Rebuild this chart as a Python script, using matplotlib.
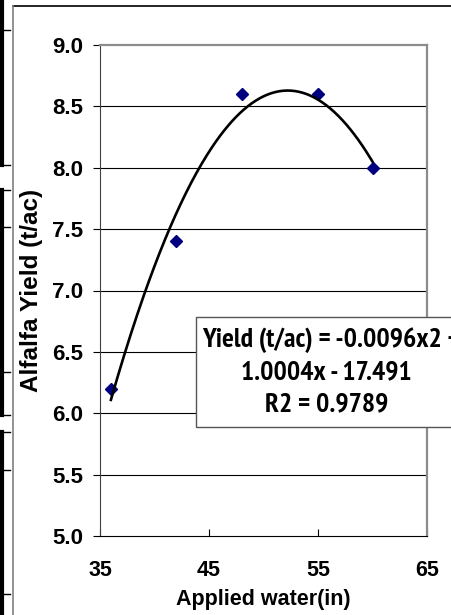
import matplotlib
matplotlib.use('Agg')
import matplotlib.pyplot as plt
from matplotlib import font_manager
from matplotlib.lines import Line2D
from matplotlib.patches import Rectangle
import numpy as np

# data
water_in = [36, 42, 48, 55, 60]
yield_tac = [6.2, 7.4, 8.6, 8.6, 8.0]
x_ticks = [35, 45, 55, 65]
y_ticks = [5.0, 5.5, 6.0, 6.5, 7.0, 7.5, 8.0, 8.5, 9.0]
eq_lines = ['Yield (t/ac) = -0.0096x2 +', '1.0004x - 17.491', 'R2 = 0.9789']

plt.rcParams['font.family'] = ['Liberation Sans', 'DejaVu Sans']
plt.rcParams['font.weight'] = 'bold'

# bold narrow face for the trendline label, if one is installed
narrow_bold = [f for f in font_manager.fontManager.ttflist
               if 'Narrow' in f.name and f.weight in (700, 'bold') and f.style == 'normal']
if narrow_bold:
    eq_prop = font_manager.FontProperties(fname=narrow_bold[0].fname, size=20)
else:
    eq_prop = font_manager.FontProperties(family='Liberation Sans', weight='bold', size=15.8)

W, H = 451, 615
fig = plt.figure(figsize=(W / 100, H / 100), dpi=100)
ax = fig.add_axes([100 / W, 1 - 536 / H, 327 / W, 491 / H])

# outer chart frame and the sheet lines on the left edge
fig.add_artist(Line2D([13 / W, 1], [1 - 6 / H, 1 - 6 / H], color='black', lw=1.2))
fig.add_artist(Line2D([13 / W, 13 / W], [0, 1 - 6 / H], color='#808080', lw=1.2))
for y0, y1 in [(0, 165), (190, 415), (432, 615)]:
    fig.add_artist(Line2D([2 / W, 2 / W], [1 - y0 / H, 1 - y1 / H], color='black', lw=3))
for yy in [30, 165, 190, 227, 372, 415, 432, 470, 594]:
    fig.add_artist(Line2D([0, 10 / W], [1 - yy / H, 1 - yy / H], color='black', lw=1))

coef = np.polyfit(water_in, yield_tac, 2)
xs = np.linspace(min(water_in), max(water_in), 200)
ax.plot(xs, np.polyval(coef, xs), color='black', lw=1.9, zorder=4)
ax.plot(water_in, yield_tac, linestyle='none', marker='D', markersize=6.3,
        color='#000080', zorder=3)

ax.set_xlim(35, 65)
ax.set_ylim(5.0, 9.0)
ax.set_xticks(x_ticks)
ax.set_yticks(y_ticks)
ax.set_yticklabels([f'{v:.1f}' for v in y_ticks])
for v in y_ticks[1:-1]:
    ax.axhline(v, color='black', lw=0.8, zorder=1)

ax.tick_params(axis='y', direction='out', length=5, width=0.8, pad=7, labelsize=16)
ax.tick_params(axis='x', direction='in', length=5, width=0.8, pad=17, labelsize=15.5)
ax.spines['left'].set_color('#404040')
ax.spines['bottom'].set_color('black')
ax.spines['top'].set_color('#8c8c8c')
ax.spines['right'].set_color('#8c8c8c')
ax.spines['right'].set_linewidth(1.6)
ax.spines['top'].set_linewidth(1.6)
for s in ['left', 'bottom']:
    ax.spines[s].set_linewidth(0.8)

ax.set_xlabel('Applied water(in)', fontsize=15.5, fontweight='bold')
ax.set_ylabel('Alfalfa Yield (t/ac)', fontsize=17.5, fontweight='bold')
ax.xaxis.set_label_coords(0.5, -0.108)
ax.yaxis.set_label_coords(-0.175, 0.5)

# trendline label box
fig.add_artist(Rectangle((196 / W, 1 - 427 / H), (W + 10 - 196) / W, 110 / H,
                         facecolor='white', edgecolor='#555555', lw=1.0, zorder=5))
fig.text(202 / W, 1 - 340 / H, eq_lines[0], ha='left', va='center',
         fontproperties=eq_prop, zorder=6)
fig.text(326 / W, 1 - 372 / H, eq_lines[1], ha='center', va='center',
         fontproperties=eq_prop, zorder=6)
fig.text(327 / W, 1 - 404 / H, eq_lines[2], ha='center', va='center',
         fontproperties=eq_prop, zorder=6)

fig.savefig('out.png', dpi=100)
